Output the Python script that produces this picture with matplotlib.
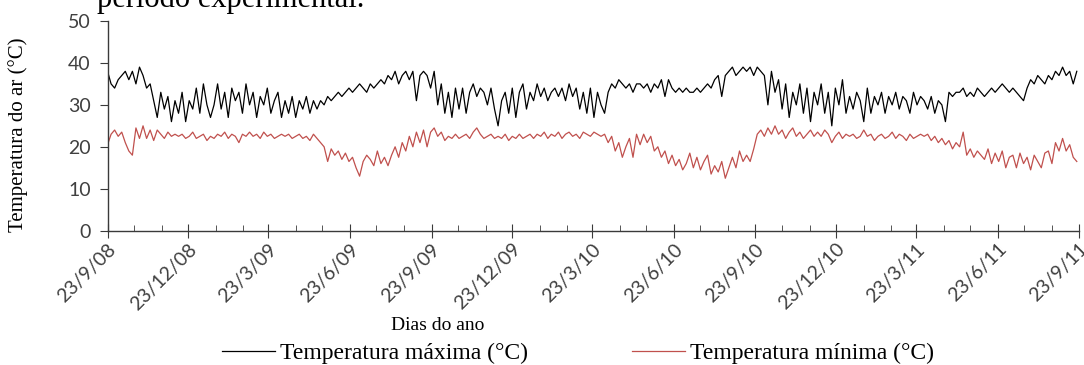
import numpy as np
import pandas as pd
import matplotlib
matplotlib.use("Agg")
import matplotlib.pyplot as plt
import matplotlib.dates as mdates
from matplotlib.ticker import FuncFormatter

# leituras a cada 4 dias, 23/9/08 -> 23/9/11
start = "2008-09-23"
step_days = 4

tmax = [
    38, 35, 34, 36, 37, 38, 36, 38, 35, 39,
    37, 34, 35, 31, 27, 33, 29, 32, 26, 31,
    28, 33, 26, 31, 29, 34, 28, 35, 30, 27,
    30, 35, 29, 33, 27, 34, 31, 33, 28, 35,
    30, 33, 27, 32, 30, 34, 28, 31, 33, 27,
    31, 28, 32, 27, 31, 29, 32, 28, 31, 29,
    31, 30, 32, 31, 32, 33, 32, 33, 34, 33,
    34, 35, 34, 33, 35, 34, 35, 36, 35, 37,
    36, 38, 35, 37, 38, 36, 38, 31, 37, 38,
    37, 34, 38, 30, 35, 28, 33, 27, 34, 29,
    34, 28, 33, 35, 32, 34, 33, 30, 34, 29,
    25, 31, 33, 28, 34, 27, 33, 35, 29, 33,
    31, 35, 32, 34, 31, 33, 34, 32, 34, 31,
    35, 32, 34, 29, 33, 28, 34, 27, 33, 30,
    28, 33, 35, 34, 36, 35, 34, 35, 33, 35,
    35, 34, 35, 33, 35, 34, 36, 32, 36, 34,
    33, 34, 33, 34, 33, 33, 34, 33, 34, 35,
    34, 36, 37, 32, 37, 38, 39, 37, 38, 39,
    38, 39, 37, 39, 38, 37, 30, 38, 33, 36,
    29, 35, 27, 33, 30, 35, 28, 34, 26, 33,
    30, 35, 28, 33, 25, 34, 30, 36, 28, 32,
    29, 33, 31, 26, 34, 28, 32, 30, 33, 28,
    32, 30, 33, 29, 32, 31, 28, 33, 30, 32,
    31, 29, 32, 28, 31, 30, 26, 33, 32, 33,
    33, 34, 32, 33, 32, 34, 33, 32, 33, 34,
    33, 34, 35, 34, 33, 34, 33, 32, 31, 34,
    36, 35, 37, 36, 35, 37, 36, 38, 37, 39,
    37, 38, 35, 38,
]

tmin = [
    20.5, 23, 24, 22.5, 23.5, 21, 19, 18, 24.5, 22,
    25, 22, 24, 21.5, 24, 23, 22, 23.5, 22.5, 23,
    22.5, 23, 22, 22.5, 23.5, 22, 22.5, 23, 21.5, 22.5,
    22, 23, 22.5, 23.5, 22, 23, 22.5, 21, 23, 22.5,
    23.5, 22.5, 23, 22, 23.5, 22.5, 23, 22, 22.5, 23,
    22.5, 23, 22, 22.5, 23, 22, 22.5, 21.5, 23, 22,
    21, 20, 16.5, 19.5, 18, 19, 17, 18.5, 16.5, 17.5,
    15, 13, 16.5, 18, 17, 15.5, 19, 16, 17.5, 15.5,
    18, 20, 17.5, 21, 19, 22.5, 20, 23.5, 21, 24,
    20, 23.5, 24.5, 22.5, 23.5, 21.5, 22.5, 22, 23, 22,
    22.5, 23, 22, 23.5, 24.5, 23, 22, 22.5, 23, 22,
    22.5, 22, 23, 21.5, 22.5, 22, 23, 22, 22.5, 23,
    22, 23, 22.5, 23.5, 22, 23, 22.5, 23.5, 22, 23,
    23.5, 22.5, 23, 22, 23.5, 23, 22.5, 23.5, 23, 22.5,
    23, 21, 22.5, 19, 21, 17.5, 20, 22, 17.5, 23,
    20.5, 23, 21, 22.5, 19, 20, 17.5, 19, 16, 18,
    15.5, 17, 14.5, 16, 18.5, 15, 17.5, 14.5, 16.5, 18,
    13.5, 15.5, 14, 16.5, 12.5, 15, 17.5, 15, 19, 16.5,
    18, 16.5, 19.5, 23, 24, 22.5, 24.5, 23, 25, 23,
    24, 22, 23.5, 24.5, 22.5, 23.5, 22, 23, 24, 22.5,
    23.5, 22.5, 24, 23, 21, 22.5, 23.5, 22, 23, 22.5,
    23, 22, 22.5, 24, 22.5, 23, 21.5, 22.5, 23, 22,
    22.5, 23.5, 22, 23, 22.5, 21.5, 23, 22, 22.5, 23,
    22.5, 23, 21.5, 22.5, 21, 22, 20.5, 21.5, 19.5, 21,
    20, 23.5, 18, 19.5, 17.5, 19, 18, 17, 19.5, 16,
    18.5, 16.5, 19, 15, 17.5, 18, 15, 18.5, 16, 17.5,
    14.5, 18, 16.5, 15, 18.5, 19, 16, 21, 19, 22,
    19, 20.5, 17.5, 16.5,
]

labels = ["Temperatura máxima (°C)", "Temperatura mínima (°C)"]

dates = pd.date_range(start, periods=len(tmax), freq=f"{step_days}D")

serif = "Liberation Serif"
sans = "Lato"
axis_col = "#3a3a3a"
tick_txt = "#404040"

fig = plt.figure(figsize=(10.84, 3.65), dpi=100)
ax = fig.add_axes([0.0992, 0.368, 0.8966, 0.5745])

l1, = ax.plot(dates, tmax, color="black", lw=0.9)
l2, = ax.plot(dates, tmin, color="#C0504D", lw=0.9)

ax.set_ylim(0, 50)
ax.set_yticks(range(0, 51, 10))
ax.set_xlim(pd.Timestamp("2008-09-23"), pd.Timestamp("2011-09-23"))

ax.xaxis.set_major_locator(mdates.MonthLocator(bymonth=[3, 6, 9, 12], bymonthday=23))
ax.xaxis.set_minor_locator(mdates.MonthLocator(bymonthday=23))


def fmt_date(x, pos):
    d = mdates.num2date(x)
    return f"{d.day}/{d.month}/{d:%y}"


ax.xaxis.set_major_formatter(FuncFormatter(fmt_date))

for side in ["top", "right"]:
    ax.spines[side].set_visible(False)
for side in ["left", "bottom"]:
    ax.spines[side].set_color(axis_col)
    ax.spines[side].set_linewidth(1.0)

ax.tick_params(axis="y", direction="out", length=6, color=axis_col, labelsize=14, pad=6)
ax.tick_params(axis="x", which="major", direction="inout", length=10, color=axis_col,
               labelsize=14, pad=2)
ax.tick_params(axis="x", which="minor", direction="in", length=4, color=axis_col)
for lab in ax.get_yticklabels():
    lab.set_family(sans)
    lab.set_color(tick_txt)
for lab in ax.get_xticklabels():
    lab.set_family(sans)
    lab.set_color(tick_txt)
    lab.set_rotation(45)
    lab.set_ha("right")
    lab.set_rotation_mode("anchor")

fig.text(18 / 1084, 1 - 135 / 365, "Temperatura do ar (°C)", family=serif, fontsize=15,
         rotation=90, ha="center", va="center")
fig.text(438 / 1084, 1 - 326 / 365, "Dias do ano", family=serif, fontsize=14,
         ha="center", va="center")
fig.text(97 / 1084, 1 - 7 / 365, "período experimental.", family=serif, fontsize=22,
         ha="left", va="baseline")

fig.legend([l1, l2], labels, loc="center", bbox_to_anchor=(578 / 1084, 1 - 353 / 365),
           ncol=2, frameon=False, prop={"family": serif, "size": 17},
           handlelength=2.25, handletextpad=0.2, columnspacing=4.4)

fig.savefig("out.png", dpi=100)
